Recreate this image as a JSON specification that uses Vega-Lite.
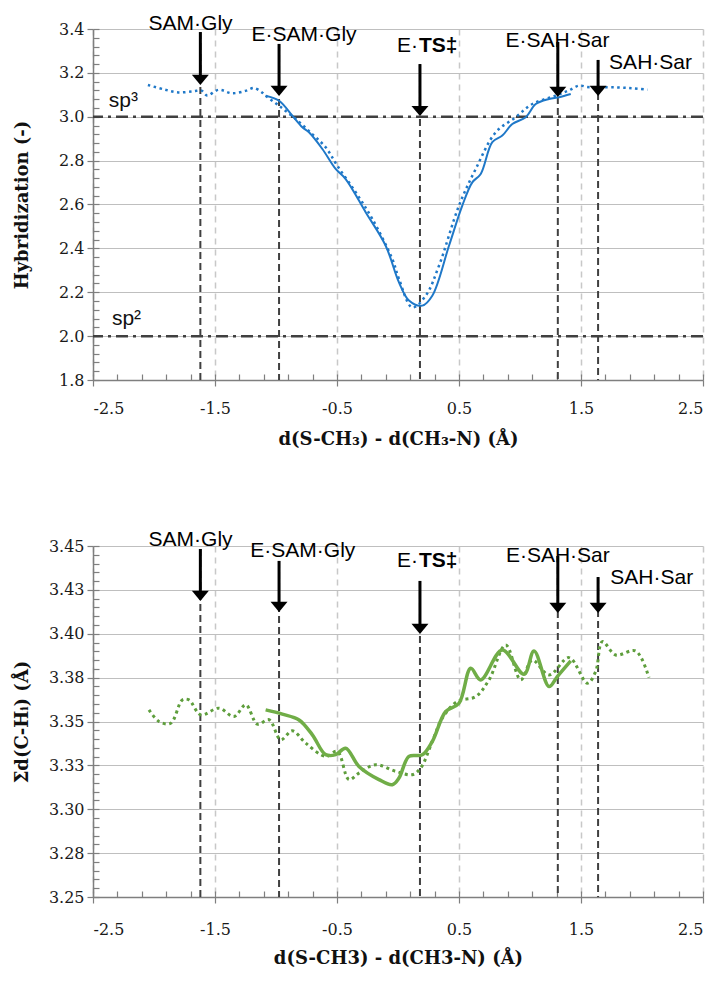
{
  "$schema": "https://vega.github.io/schema/vega-lite/v6.json",
  "background": "white",
  "autosize": {"type": "pad"},
  "padding": {"left": 13, "top": 13, "right": 10, "bottom": 10},
  "spacing": 166,
  "bounds": "flush",
  "config": {
    "view": {"stroke": null},
    "axis": {"domainColor": "#7f7f7f", "domainWidth": 1.5, "tickColor": "#7f7f7f", "tickWidth": 1.2, "labelColor": "#1a1a1a", "titleColor": "#111111", "labelFont": "DejaVu Serif", "labelFontSize": 16, "titleFont": "DejaVu Serif", "titleFontWeight": "bold", "titleFontSize": 18}
  },
  "datasets": {
    "hyb": [
      {"s": "d", "x": -2.05, "y": 3.145}, {"s": "d", "x": -1.92, "y": 3.125}, {"s": "d", "x": -1.8, "y": 3.111}, {"s": "d", "x": -1.68, "y": 3.116}, {"s": "d", "x": -1.61, "y": 3.119}, {"s": "d", "x": -1.565, "y": 3.097}, {"s": "d", "x": -1.47, "y": 3.123}, {"s": "d", "x": -1.36, "y": 3.107}, {"s": "d", "x": -1.25, "y": 3.118}, {"s": "d", "x": -1.18, "y": 3.131}, {"s": "d", "x": -1.115, "y": 3.111}, {"s": "d", "x": -1.085, "y": 3.096}, {"s": "d", "x": -0.975, "y": 3.05}, {"s": "d", "x": -0.839, "y": 2.99}, {"s": "d", "x": -0.703, "y": 2.921}, {"s": "d", "x": -0.593, "y": 2.861}, {"s": "d", "x": -0.498, "y": 2.777}, {"s": "d", "x": -0.347, "y": 2.656}, {"s": "d", "x": -0.21, "y": 2.534}, {"s": "d", "x": -0.047, "y": 2.352}, {"s": "d", "x": 0.008, "y": 2.261}, {"s": "d", "x": 0.117, "y": 2.131}, {"s": "d", "x": 0.227, "y": 2.184}, {"s": "d", "x": 0.336, "y": 2.321}, {"s": "d", "x": 0.5, "y": 2.595}, {"s": "d", "x": 0.637, "y": 2.762}, {"s": "d", "x": 0.801, "y": 2.929}, {"s": "d", "x": 0.965, "y": 2.998}, {"s": "d", "x": 1.101, "y": 3.058}, {"s": "d", "x": 1.293, "y": 3.096}, {"s": "d", "x": 1.4, "y": 3.12}, {"s": "d", "x": 1.484, "y": 3.142}, {"s": "d", "x": 1.55, "y": 3.136}, {"s": "d", "x": 1.62, "y": 3.134}, {"s": "d", "x": 1.784, "y": 3.134}, {"s": "d", "x": 1.92, "y": 3.13}, {"s": "d", "x": 2.044, "y": 3.123},
      {"s": "s", "x": -1.085, "y": 3.096}, {"s": "s", "x": -0.975, "y": 3.073}, {"s": "s", "x": -0.866, "y": 3.005}, {"s": "s", "x": -0.784, "y": 2.952}, {"s": "s", "x": -0.73, "y": 2.929}, {"s": "s", "x": -0.62, "y": 2.853}, {"s": "s", "x": -0.511, "y": 2.762}, {"s": "s", "x": -0.429, "y": 2.716}, {"s": "s", "x": -0.265, "y": 2.565}, {"s": "s", "x": -0.101, "y": 2.412}, {"s": "s", "x": 0.008, "y": 2.245}, {"s": "s", "x": 0.09, "y": 2.162}, {"s": "s", "x": 0.199, "y": 2.139}, {"s": "s", "x": 0.281, "y": 2.184}, {"s": "s", "x": 0.418, "y": 2.412}, {"s": "s", "x": 0.527, "y": 2.595}, {"s": "s", "x": 0.609, "y": 2.701}, {"s": "s", "x": 0.678, "y": 2.739}, {"s": "s", "x": 0.773, "y": 2.884}, {"s": "s", "x": 0.855, "y": 2.914}, {"s": "s", "x": 0.937, "y": 2.967}, {"s": "s", "x": 1.047, "y": 2.998}, {"s": "s", "x": 1.129, "y": 3.058}, {"s": "s", "x": 1.238, "y": 3.081}, {"s": "s", "x": 1.32, "y": 3.089}, {"s": "s", "x": 1.416, "y": 3.104}
    ],
    "sig": [
      {"s": "d", "x": -2.041, "y": 3.3566}, {"s": "d", "x": -1.959, "y": 3.35}, {"s": "d", "x": -1.863, "y": 3.349}, {"s": "d", "x": -1.768, "y": 3.3623}, {"s": "d", "x": -1.713, "y": 3.3623}, {"s": "d", "x": -1.617, "y": 3.3538}, {"s": "d", "x": -1.467, "y": 3.3576}, {"s": "d", "x": -1.344, "y": 3.3528}, {"s": "d", "x": -1.248, "y": 3.3595}, {"s": "d", "x": -1.153, "y": 3.3485}, {"s": "d", "x": -1.057, "y": 3.351}, {"s": "d", "x": -0.961, "y": 3.3396}, {"s": "d", "x": -0.866, "y": 3.3447}, {"s": "d", "x": -0.757, "y": 3.3377}, {"s": "d", "x": -0.593, "y": 3.3301}, {"s": "d", "x": -0.498, "y": 3.333}, {"s": "d", "x": -0.402, "y": 3.3169}, {"s": "d", "x": -0.32, "y": 3.3206}, {"s": "d", "x": -0.183, "y": 3.3254}, {"s": "d", "x": -0.019, "y": 3.3216}, {"s": "d", "x": 0.117, "y": 3.3197}, {"s": "d", "x": 0.186, "y": 3.3235}, {"s": "d", "x": 0.281, "y": 3.3386}, {"s": "d", "x": 0.363, "y": 3.3519}, {"s": "d", "x": 0.486, "y": 3.3614}, {"s": "d", "x": 0.637, "y": 3.3642}, {"s": "d", "x": 0.746, "y": 3.3737}, {"s": "d", "x": 0.883, "y": 3.3936}, {"s": "d", "x": 1.006, "y": 3.3737}, {"s": "d", "x": 1.101, "y": 3.385}, {"s": "d", "x": 1.238, "y": 3.3765}, {"s": "d", "x": 1.402, "y": 3.3864}, {"s": "d", "x": 1.552, "y": 3.3718}, {"s": "d", "x": 1.62, "y": 3.3784}, {"s": "d", "x": 1.675, "y": 3.3955}, {"s": "d", "x": 1.784, "y": 3.3879}, {"s": "d", "x": 1.948, "y": 3.3902}, {"s": "d", "x": 2.057, "y": 3.375},
      {"s": "s", "x": -1.085, "y": 3.3566}, {"s": "s", "x": -0.948, "y": 3.3542}, {"s": "s", "x": -0.811, "y": 3.3509}, {"s": "s", "x": -0.702, "y": 3.3424}, {"s": "s", "x": -0.593, "y": 3.3311}, {"s": "s", "x": -0.511, "y": 3.3311}, {"s": "s", "x": -0.429, "y": 3.3348}, {"s": "s", "x": -0.32, "y": 3.3244}, {"s": "s", "x": -0.156, "y": 3.3169}, {"s": "s", "x": -0.047, "y": 3.314}, {"s": "s", "x": 0.008, "y": 3.3178}, {"s": "s", "x": 0.09, "y": 3.3301}, {"s": "s", "x": 0.199, "y": 3.331}, {"s": "s", "x": 0.281, "y": 3.3386}, {"s": "s", "x": 0.391, "y": 3.3557}, {"s": "s", "x": 0.5, "y": 3.3604}, {"s": "s", "x": 0.596, "y": 3.3803}, {"s": "s", "x": 0.678, "y": 3.3737}, {"s": "s", "x": 0.855, "y": 3.3907}, {"s": "s", "x": 1.033, "y": 3.3769}, {"s": "s", "x": 1.115, "y": 3.3902}, {"s": "s", "x": 1.238, "y": 3.3699}, {"s": "s", "x": 1.306, "y": 3.3756}, {"s": "s", "x": 1.416, "y": 3.3845}
    ],
    "at": [
      {"label": "SAM·Gly", "bold": "", "x": -1.62, "lx": -1.7, "ly": 3.395, "y0": 3.386, "y1": 3.172, "tip": 3.145},
      {"label": "E·SAM·Gly", "bold": "", "x": -0.975, "lx": -0.77, "ly": 3.345, "y0": 3.332, "y1": 3.122, "tip": 3.095},
      {"label": "E·", "bold": "TS‡", "x": 0.18, "lx": 0.18, "ly": 3.295, "y0": 3.24, "y1": 3.031, "tip": 3.003},
      {"label": "E·SAH·Sar", "bold": "", "x": 1.31, "lx": 1.307, "ly": 3.318, "y0": 3.341, "y1": 3.117, "tip": 3.09},
      {"label": "SAH·Sar", "bold": "", "x": 1.64, "lx": 2.07, "ly": 3.218, "y0": 3.259, "y1": 3.122, "tip": 3.095}
    ],
    "ab": [
      {"label": "SAM·Gly", "bold": "", "x": -1.62, "lx": -1.7, "ly": 3.45, "y0": 3.4483, "y1": 3.4221, "tip": 3.4187},
      {"label": "E·SAM·Gly", "bold": "", "x": -0.975, "lx": -0.78, "ly": 3.4437, "y0": 3.4415, "y1": 3.4158, "tip": 3.4124},
      {"label": "E·", "bold": "TS‡", "x": 0.18, "lx": 0.18, "ly": 3.438, "y0": 3.4301, "y1": 3.4033, "tip": 3.3999},
      {"label": "E·SAH·Sar", "bold": "", "x": 1.31, "lx": 1.31, "ly": 3.4409, "y0": 3.4443, "y1": 3.4152, "tip": 3.4118},
      {"label": "SAH·Sar", "bold": "", "x": 1.64, "lx": 2.08, "ly": 3.4283, "y0": 3.4323, "y1": 3.4152, "tip": 3.4118}
    ],
    "hl": [
      {"v": 3.0, "t": "sp³", "tx": -2.37, "ty": 3.044},
      {"v": 2.0, "t": "sp²", "tx": -2.345, "ty": 2.052}
    ]
  },
  "vconcat": [
    {
      "width": 610,
      "height": 351,
      "resolve": {"axis": {"x": "independent", "y": "independent"}},
      "layer": [
        {
          "data": {"name": "at"},
          "mark": {"type": "rule", "color": "#404040", "strokeWidth": 2, "strokeDash": [7, 4]},
          "encoding": {
            "x": {"field": "x", "type": "quantitative", "scale": {"domain": [-2.5, 2.5], "nice": false, "zero": false},
              "axis": {"orient": "bottom", "values": [-2.5, -1.5, -0.5, 0.5, 1.5, 2.5], "labelExpr": "datum.value < 0 ? '-' + format(-datum.value, '.1f') : format(datum.value, '.1f')", "tickSize": 6, "labelPadding": 14, "grid": true, "gridDash": [6, 5], "gridColor": "#c8c8c8", "gridWidth": 1.5, "title": "d(S-CH₃) - d(CH₃-N) (Å)", "titleBaseline": "middle", "titleY": 59}},
            "y": {"field": "y0", "type": "quantitative", "scale": {"domain": [1.8, 3.4], "nice": false, "zero": false},
              "axis": {"orient": "left", "values": [1.8, 2.0, 2.2, 2.4, 2.6, 2.8, 3.0, 3.2, 3.4], "format": ".1f", "tickSize": 6, "labelPadding": 3, "grid": true, "gridColor": "#bfbfbf", "gridWidth": 1, "title": "Hybridization (-)", "titleX": -62}},
            "y2": {"datum": 1.8}
          }
        },
        {
          "data": {"name": "hl"},
          "mark": {"type": "rule", "color": "#404040", "strokeWidth": 2.5, "strokeDash": [12, 5, 3, 5]},
          "encoding": {
            "y": {"field": "v", "type": "quantitative", "scale": {"domain": [1.8, 3.4], "nice": false, "zero": false}, "axis": null}
          }
        },
        {
          "data": {"name": "hl"},
          "mark": {"type": "text", "align": "left", "baseline": "alphabetic", "font": "Liberation Sans", "fontSize": 21, "color": "#111111"},
          "encoding": {
            "x": {"field": "tx", "type": "quantitative", "scale": {"domain": [-2.5, 2.5], "nice": false, "zero": false}, "axis": null},
            "y": {"field": "ty", "type": "quantitative", "scale": {"domain": [1.8, 3.4], "nice": false, "zero": false}, "axis": null},
            "text": {"field": "t"}
          }
        },
        {
          "data": {"name": "hyb"},
          "transform": [{"filter": "datum.s == 'd'"}],
          "mark": {"type": "line", "interpolate": "catmull-rom", "color": "#1f78c8", "strokeWidth": 2.5, "strokeDash": [2.5, 3.5]},
          "encoding": {
            "x": {"field": "x", "type": "quantitative", "scale": {"domain": [-2.5, 2.5], "nice": false, "zero": false},
              "axis": {"orient": "bottom", "offset": -6, "tickSize": 6, "domain": false, "labels": false, "grid": false, "title": null, "values": [-2.5, -2.3, -2.1, -1.9, -1.7, -1.5, -1.3, -1.1, -0.9, -0.7, -0.5, -0.3, -0.1, 0.1, 0.3, 0.5, 0.7, 0.9, 1.1, 1.3, 1.5, 1.7, 1.9, 2.1, 2.3, 2.5]}},
            "y": {"field": "y", "type": "quantitative", "scale": {"domain": [1.8, 3.4], "nice": false, "zero": false},
              "axis": {"orient": "left", "offset": -6, "tickSize": 6, "domain": false, "labels": false, "grid": false, "title": null, "values": [1.8, 1.84, 1.88, 1.92, 1.96, 2.0, 2.04, 2.08, 2.12, 2.16, 2.2, 2.24, 2.28, 2.32, 2.36, 2.4, 2.44, 2.48, 2.52, 2.56, 2.6, 2.64, 2.68, 2.72, 2.76, 2.8, 2.84, 2.88, 2.92, 2.96, 3.0, 3.04, 3.08, 3.12, 3.16, 3.2, 3.24, 3.28, 3.32, 3.36, 3.4]}}
          }
        },
        {
          "data": {"name": "hyb"},
          "transform": [{"filter": "datum.s == 's'"}],
          "mark": {"type": "line", "interpolate": "catmull-rom", "color": "#1f78c8", "strokeWidth": 2},
          "encoding": {
            "x": {"field": "x", "type": "quantitative", "scale": {"domain": [-2.5, 2.5], "nice": false, "zero": false}, "axis": null},
            "y": {"field": "y", "type": "quantitative", "scale": {"domain": [1.8, 3.4], "nice": false, "zero": false}, "axis": null}
          }
        },
        {
          "data": {"name": "at"},
          "mark": {"type": "rule", "color": "#000000", "strokeWidth": 3},
          "encoding": {
            "x": {"field": "x", "type": "quantitative", "scale": {"domain": [-2.5, 2.5], "nice": false, "zero": false}, "axis": null},
            "y": {"field": "y0", "type": "quantitative", "scale": {"domain": [1.8, 3.4], "nice": false, "zero": false}, "axis": null},
            "y2": {"field": "y1"}
          }
        },
        {
          "data": {"name": "at"},
          "mark": {"type": "point", "shape": "M-1,-1.2L1,-1.2L0,0Z", "filled": true, "color": "#000000", "opacity": 1, "size": 289},
          "encoding": {
            "x": {"field": "x", "type": "quantitative", "scale": {"domain": [-2.5, 2.5], "nice": false, "zero": false}, "axis": null},
            "y": {"field": "tip", "type": "quantitative", "scale": {"domain": [1.8, 3.4], "nice": false, "zero": false}, "axis": null}
          }
        },
        {
          "data": {"name": "at"},
          "transform": [{"filter": "datum.bold == ''"}],
          "mark": {"type": "text", "align": "center", "baseline": "alphabetic", "font": "Liberation Sans", "fontSize": 21, "color": "#000000"},
          "encoding": {
            "x": {"field": "lx", "type": "quantitative", "scale": {"domain": [-2.5, 2.5], "nice": false, "zero": false}, "axis": null},
            "y": {"field": "ly", "type": "quantitative", "scale": {"domain": [1.8, 3.4], "nice": false, "zero": false}, "axis": null},
            "text": {"field": "label"}
          }
        },
        {
          "data": {"name": "at"},
          "transform": [{"filter": "datum.bold != ''"}],
          "mark": {"type": "text", "align": "right", "baseline": "alphabetic", "font": "Liberation Sans", "fontSize": 21, "color": "#000000", "dx": -2},
          "encoding": {
            "x": {"field": "lx", "type": "quantitative", "scale": {"domain": [-2.5, 2.5], "nice": false, "zero": false}, "axis": null},
            "y": {"field": "ly", "type": "quantitative", "scale": {"domain": [1.8, 3.4], "nice": false, "zero": false}, "axis": null},
            "text": {"field": "label"}
          }
        },
        {
          "data": {"name": "at"},
          "transform": [{"filter": "datum.bold != ''"}],
          "mark": {"type": "text", "align": "left", "baseline": "alphabetic", "font": "Liberation Sans", "fontSize": 21, "fontWeight": "bold", "color": "#000000", "dx": -1},
          "encoding": {
            "x": {"field": "lx", "type": "quantitative", "scale": {"domain": [-2.5, 2.5], "nice": false, "zero": false}, "axis": null},
            "y": {"field": "ly", "type": "quantitative", "scale": {"domain": [1.8, 3.4], "nice": false, "zero": false}, "axis": null},
            "text": {"field": "bold"}
          }
        }
      ]
    },
    {
      "width": 610,
      "height": 351,
      "resolve": {"axis": {"x": "independent", "y": "independent"}},
      "layer": [
        {
          "data": {"name": "ab"},
          "mark": {"type": "rule", "color": "#404040", "strokeWidth": 2, "strokeDash": [7, 4]},
          "encoding": {
            "x": {"field": "x", "type": "quantitative", "scale": {"domain": [-2.5, 2.5], "nice": false, "zero": false},
              "axis": {"orient": "bottom", "values": [-2.5, -1.5, -0.5, 0.5, 1.5, 2.5], "labelExpr": "datum.value < 0 ? '-' + format(-datum.value, '.1f') : format(datum.value, '.1f')", "tickSize": 6, "labelPadding": 18, "grid": true, "gridDash": [6, 5], "gridColor": "#c8c8c8", "gridWidth": 1.5, "title": "d(S-CH3) - d(CH3-N) (Å)", "titleBaseline": "middle", "titleY": 61}},
            "y": {"field": "y0", "type": "quantitative", "scale": {"domain": [3.25, 3.45], "nice": false, "zero": false},
              "axis": {"orient": "left", "values": [3.25, 3.275, 3.3, 3.325, 3.35, 3.375, 3.4, 3.425, 3.45], "labelExpr": "format(datum.value + 0.0001, '.2f')", "tickSize": 6, "labelPadding": 3, "grid": true, "gridColor": "#bfbfbf", "gridWidth": 1, "title": "Σd(C-Hᵢ) (Å)", "titleX": -62}},
            "y2": {"datum": 3.25}
          }
        },
        {
          "data": {"name": "sig"},
          "transform": [{"filter": "datum.s == 'd'"}],
          "mark": {"type": "line", "interpolate": "catmull-rom", "color": "#5e9e3c", "strokeWidth": 3, "strokeDash": [3, 3.5]},
          "encoding": {
            "x": {"field": "x", "type": "quantitative", "scale": {"domain": [-2.5, 2.5], "nice": false, "zero": false},
              "axis": {"orient": "bottom", "offset": -6, "tickSize": 6, "domain": false, "labels": false, "grid": false, "title": null, "values": [-2.5, -2.3, -2.1, -1.9, -1.7, -1.5, -1.3, -1.1, -0.9, -0.7, -0.5, -0.3, -0.1, 0.1, 0.3, 0.5, 0.7, 0.9, 1.1, 1.3, 1.5, 1.7, 1.9, 2.1, 2.3, 2.5]}},
            "y": {"field": "y", "type": "quantitative", "scale": {"domain": [3.25, 3.45], "nice": false, "zero": false},
              "axis": {"orient": "left", "offset": -6, "tickSize": 6, "domain": false, "labels": false, "grid": false, "title": null, "values": [3.25, 3.255, 3.26, 3.265, 3.27, 3.275, 3.28, 3.285, 3.29, 3.295, 3.3, 3.305, 3.31, 3.315, 3.32, 3.325, 3.33, 3.335, 3.34, 3.345, 3.35, 3.355, 3.36, 3.365, 3.37, 3.375, 3.38, 3.385, 3.39, 3.395, 3.4, 3.405, 3.41, 3.415, 3.42, 3.425, 3.43, 3.435, 3.44, 3.445, 3.45]}}
          }
        },
        {
          "data": {"name": "sig"},
          "transform": [{"filter": "datum.s == 's'"}],
          "mark": {"type": "line", "interpolate": "catmull-rom", "color": "#70ad47", "strokeWidth": 3.5},
          "encoding": {
            "x": {"field": "x", "type": "quantitative", "scale": {"domain": [-2.5, 2.5], "nice": false, "zero": false}, "axis": null},
            "y": {"field": "y", "type": "quantitative", "scale": {"domain": [3.25, 3.45], "nice": false, "zero": false}, "axis": null}
          }
        },
        {
          "data": {"name": "ab"},
          "mark": {"type": "rule", "color": "#000000", "strokeWidth": 3},
          "encoding": {
            "x": {"field": "x", "type": "quantitative", "scale": {"domain": [-2.5, 2.5], "nice": false, "zero": false}, "axis": null},
            "y": {"field": "y0", "type": "quantitative", "scale": {"domain": [3.25, 3.45], "nice": false, "zero": false}, "axis": null},
            "y2": {"field": "y1"}
          }
        },
        {
          "data": {"name": "ab"},
          "mark": {"type": "point", "shape": "M-1,-1.2L1,-1.2L0,0Z", "filled": true, "color": "#000000", "opacity": 1, "size": 289},
          "encoding": {
            "x": {"field": "x", "type": "quantitative", "scale": {"domain": [-2.5, 2.5], "nice": false, "zero": false}, "axis": null},
            "y": {"field": "tip", "type": "quantitative", "scale": {"domain": [3.25, 3.45], "nice": false, "zero": false}, "axis": null}
          }
        },
        {
          "data": {"name": "ab"},
          "transform": [{"filter": "datum.bold == ''"}],
          "mark": {"type": "text", "align": "center", "baseline": "alphabetic", "font": "Liberation Sans", "fontSize": 21, "color": "#000000"},
          "encoding": {
            "x": {"field": "lx", "type": "quantitative", "scale": {"domain": [-2.5, 2.5], "nice": false, "zero": false}, "axis": null},
            "y": {"field": "ly", "type": "quantitative", "scale": {"domain": [3.25, 3.45], "nice": false, "zero": false}, "axis": null},
            "text": {"field": "label"}
          }
        },
        {
          "data": {"name": "ab"},
          "transform": [{"filter": "datum.bold != ''"}],
          "mark": {"type": "text", "align": "right", "baseline": "alphabetic", "font": "Liberation Sans", "fontSize": 21, "color": "#000000", "dx": -2},
          "encoding": {
            "x": {"field": "lx", "type": "quantitative", "scale": {"domain": [-2.5, 2.5], "nice": false, "zero": false}, "axis": null},
            "y": {"field": "ly", "type": "quantitative", "scale": {"domain": [3.25, 3.45], "nice": false, "zero": false}, "axis": null},
            "text": {"field": "label"}
          }
        },
        {
          "data": {"name": "ab"},
          "transform": [{"filter": "datum.bold != ''"}],
          "mark": {"type": "text", "align": "left", "baseline": "alphabetic", "font": "Liberation Sans", "fontSize": 21, "fontWeight": "bold", "color": "#000000", "dx": -1},
          "encoding": {
            "x": {"field": "lx", "type": "quantitative", "scale": {"domain": [-2.5, 2.5], "nice": false, "zero": false}, "axis": null},
            "y": {"field": "ly", "type": "quantitative", "scale": {"domain": [3.25, 3.45], "nice": false, "zero": false}, "axis": null},
            "text": {"field": "bold"}
          }
        }
      ]
    }
  ]
}
